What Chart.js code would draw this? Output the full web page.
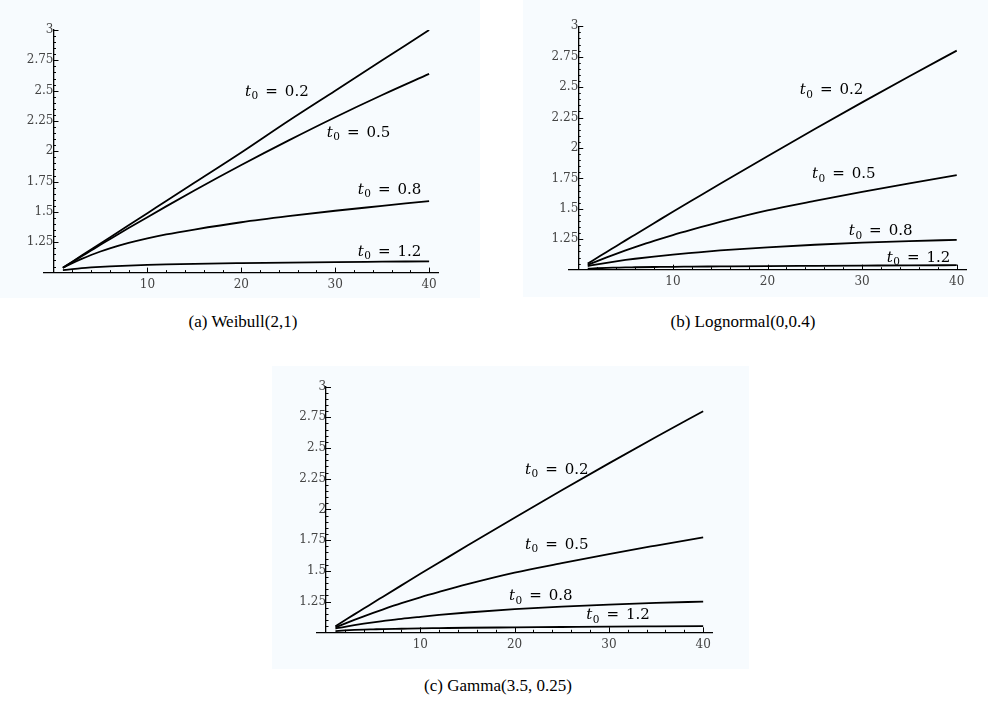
<!DOCTYPE html>
<html>
<head>
<meta charset="utf-8">
<script src="https://cdn.jsdelivr.net/npm/chart.js"></script>
<style>
  body { margin: 0; width: 988px; height: 708px; background: #fff; position: relative; overflow: hidden; }
  .panel { position: absolute; background: #f7fbfe; }
  .panel canvas { display: block; }
  .cap { position: absolute; font-family: "Liberation Serif", serif; font-size: 17px; color: #000;
         white-space: nowrap; transform: translateX(-50%); line-height: 20px; }
</style>
</head>
<body>
  <div class="panel" style="left:0;top:0;width:480px;height:298px"><canvas id="chartA" width="480" height="298"></canvas></div>
  <div class="panel" style="left:523px;top:0;width:465px;height:297px"><canvas id="chartB" width="465" height="297"></canvas></div>
  <div class="panel" style="left:272px;top:366px;width:477px;height:303px"><canvas id="chartC" width="477" height="303"></canvas></div>

  <div class="cap" style="left:243px;top:312px">(a) Weibull(2,1)</div>
  <div class="cap" style="left:743px;top:312px">(b) Lognormal(0,0.4)</div>
  <div class="cap" style="left:498px;top:676px">(c) Gamma(3.5, 0.25)</div>

<script>
  // sample points along x
  const xValues = [1, 2, 3, 4, 5, 6, 8, 10, 12, 15, 20, 25, 30, 35, 40];
  const t0Values = ["0.2", "0.5", "0.8", "1.2"];
  const yTicks = [1.25, 1.5, 1.75, 2, 2.25, 2.5, 2.75, 3];
  const xTicks = [10, 20, 30, 40];

  // (a) Weibull(2,1)
  const weibull02 = [1.04, 1.09, 1.14, 1.19, 1.24, 1.29, 1.39, 1.49, 1.59, 1.74, 1.99, 2.25, 2.50, 2.75, 3.00];
  const weibull05 = [1.04, 1.088, 1.135, 1.182, 1.229, 1.275, 1.367, 1.457, 1.546, 1.677, 1.887, 2.088, 2.281, 2.464, 2.638];
  const weibull08 = [1.04, 1.078, 1.113, 1.145, 1.174, 1.20, 1.245, 1.283, 1.315, 1.355, 1.415, 1.465, 1.51, 1.55, 1.59];
  const weibull12 = [1.02, 1.029, 1.037, 1.043, 1.048, 1.052, 1.058, 1.063, 1.067, 1.072, 1.078, 1.083, 1.087, 1.09, 1.093];

  // (b) Lognormal(0,0.4)
  const lognorm02 = [1.05, 1.098, 1.146, 1.193, 1.241, 1.288, 1.382, 1.476, 1.568, 1.706, 1.933, 2.156, 2.375, 2.59, 2.80];
  const lognorm05 = [1.04, 1.071, 1.101, 1.13, 1.158, 1.185, 1.237, 1.285, 1.329, 1.392, 1.487, 1.565, 1.64, 1.71, 1.777];
  const lognorm08 = [1.03, 1.044, 1.057, 1.069, 1.08, 1.09, 1.108, 1.124, 1.138, 1.158, 1.184, 1.205, 1.222, 1.235, 1.245];
  const lognorm12 = [1.008, 1.012, 1.015, 1.017, 1.019, 1.02, 1.022, 1.024, 1.025, 1.027, 1.03, 1.032, 1.034, 1.036, 1.037];

  // (c) Gamma(3.5, 0.25)
  const gamma02 = [1.05, 1.098, 1.146, 1.193, 1.241, 1.288, 1.382, 1.476, 1.568, 1.706, 1.933, 2.156, 2.375, 2.59, 2.80];
  const gamma05 = [1.04, 1.071, 1.101, 1.13, 1.158, 1.185, 1.237, 1.285, 1.329, 1.392, 1.486, 1.563, 1.637, 1.706, 1.773];
  const gamma08 = [1.03, 1.045, 1.058, 1.07, 1.081, 1.091, 1.11, 1.126, 1.141, 1.161, 1.188, 1.209, 1.226, 1.239, 1.25];
  const gamma12 = [1.01, 1.015, 1.019, 1.022, 1.024, 1.026, 1.029, 1.032, 1.034, 1.037, 1.04, 1.043, 1.046, 1.048, 1.05];

  // where the t0 labels sit, in data units (x, y of baseline start)
  const labelPosA = [[20.4, 2.46], [29.1, 2.12], [32.4, 1.65], [32.4, 1.14]];
  const labelPosB = [[23.4, 2.44], [24.7, 1.75], [28.6, 1.285], [32.6, 1.066]];
  const labelPosC = [[21.1, 2.29], [21.1, 1.68], [19.4, 1.26], [27.6, 1.105]];

  const serif = '"DejaVu Serif", serif';

  // Mathematica style inward ticks, major + minor
  const axisTicks = {
    id: "axisTicks",
    afterDraw(chart) {
      const ctx = chart.ctx;
      const xs = chart.scales.x, ys = chart.scales.y;
      const x0 = xs.getPixelForValue(0), y0 = ys.getPixelForValue(1);
      ctx.save();
      ctx.strokeStyle = "#000";
      ctx.lineWidth = 1;
      ctx.beginPath();
      for (let k = 21; k <= 60; k++) {
        const py = Math.round(ys.getPixelForValue(k / 20)) + 0.5;
        const len = k % 5 === 0 ? 5 : 2.5;
        ctx.moveTo(x0, py);
        ctx.lineTo(x0 + len, py);
      }
      for (let v = 2; v <= 40; v += 2) {
        const px = Math.round(xs.getPixelForValue(v)) + 0.5;
        const len = v % 10 === 0 ? 5 : 2.5;
        ctx.moveTo(px, y0);
        ctx.lineTo(px, y0 - len);
      }
      ctx.stroke();
      ctx.restore();
    }
  };

  const curveLabels = {
    id: "curveLabels",
    afterDatasetsDraw(chart, args, opts) {
      const ctx = chart.ctx;
      const xs = chart.scales.x, ys = chart.scales.y;
      ctx.save();
      ctx.fillStyle = "#000";
      ctx.textBaseline = "alphabetic";
      ctx.textAlign = "left";
      opts.pos.forEach((p, i) => {
        let px = xs.getPixelForValue(p[0]);
        const py = ys.getPixelForValue(p[1]);
        ctx.font = "italic 15px " + serif;
        ctx.fillText("t", px, py);
        px += ctx.measureText("t").width + 0.5;
        ctx.font = "10.5px " + serif;
        ctx.fillText("0", px, py + 3.5);
        px += ctx.measureText("0").width + 7;
        ctx.font = "15px " + serif;
        ctx.fillText("=", px, py);
        px += ctx.measureText("=").width + 7;
        ctx.fillText(t0Values[i], px, py);
      });
      ctx.restore();
    }
  };

  function makeChart(id, series, labelPos, pad) {
    var datasets = series.map((ys, i) => ({
      label: "t0 = " + t0Values[i],
      data: xValues.map((x, j) => ({ x: x, y: ys[j] })),
      borderColor: "#000",
      borderWidth: 1.8,
      pointRadius: 0,
      fill: false,
      cubicInterpolationMode: "monotone"
    }));

    return new Chart(document.getElementById(id), {
      type: "line",
      data: { datasets },
      options: {
        responsive: false,
        animation: false,
        layout: { padding: pad },
        plugins: {
          legend: { display: false },
          tooltip: { enabled: false },
          curveLabels: { pos: labelPos }
        },
        scales: {
          x: {
            type: "linear",
            min: -1,
            max: 41,
            position: { y: 1 },
            afterBuildTicks: (s) => { s.ticks = xTicks.map((v) => ({ value: v })); },
            grid: { drawOnChartArea: false, drawTicks: false },
            border: { color: "#000", width: 1.3 },
            ticks: { padding: 5, color: "#444", font: { family: serif, size: 12 }, maxRotation: 0,
                     callback: (v) => String(v) }
          },
          y: {
            type: "linear",
            min: 1,
            max: 3,
            position: { x: 0 },
            afterBuildTicks: (s) => { s.ticks = yTicks.map((v) => ({ value: v })); },
            grid: { drawOnChartArea: false, drawTicks: false },
            border: { color: "#000", width: 1.3 },
            ticks: { padding: 7, color: "#444", font: { family: serif, size: 12 },
                     callback: (v) => String(v) }
          }
        }
      },
      plugins: [axisTicks, curveLabels]
    });
  }

  makeChart("chartA", [weibull02, weibull05, weibull08, weibull12], labelPosA,
    { left: 44.1, right: 41.5, top: 30, bottom: 25.4 });
  makeChart("chartB", [lognorm02, lognorm05, lognorm08, lognorm12], labelPosB,
    { left: 45.8, right: 21.8, top: 26.3, bottom: 27.3 });
  makeChart("chartC", [gamma02, gamma05, gamma08, gamma12], labelPosC,
    { left: 44.6, right: 36.4, top: 20.6, bottom: 36.7 });
</script>
</body>
</html>
